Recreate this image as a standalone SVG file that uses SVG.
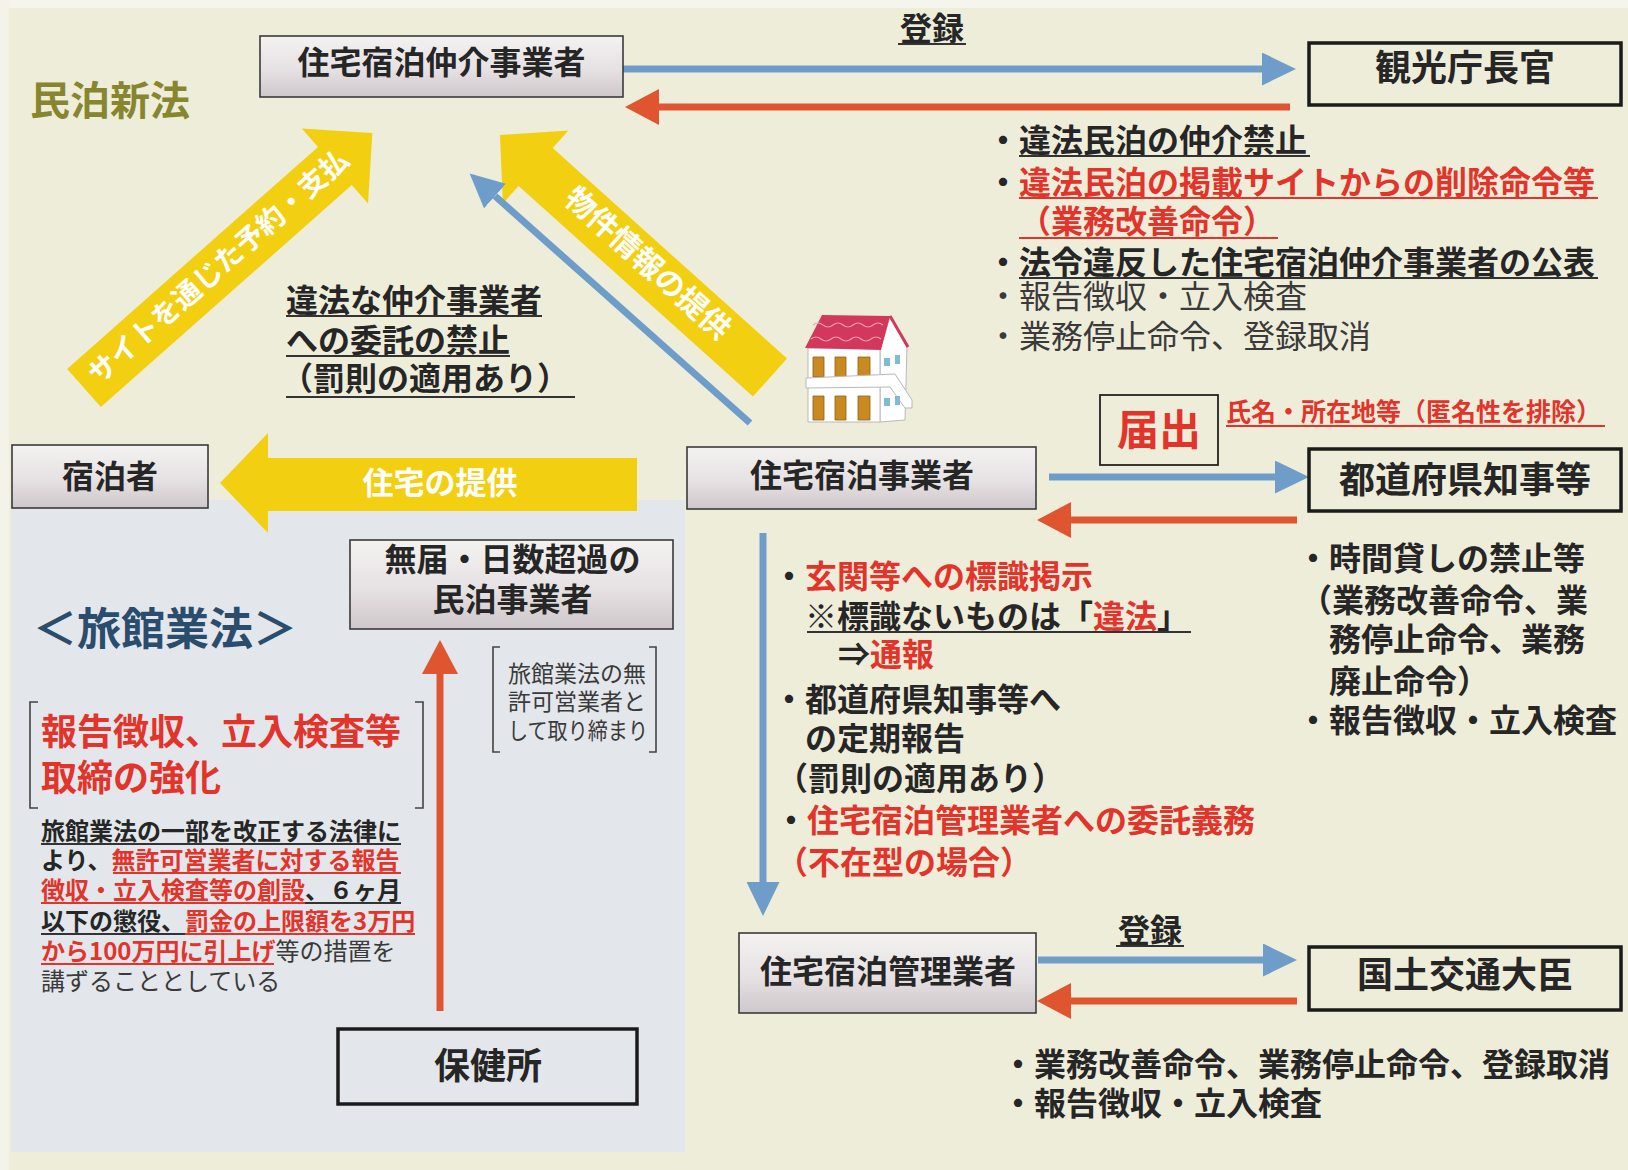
<svg xmlns="http://www.w3.org/2000/svg" width="1628" height="1170" viewBox="0 0 1628 1170">
  <style>
    text { font-family: 'Noto Sans CJK JP', 'Noto Sans CJK SC', sans-serif; }
    .b { font-weight: 700; }
    .n { font-weight: 400; }
    .k { fill: #262626; }
    .g { fill: #3a3a3a; }
    .r { fill: #e2342b; }
    .w { fill: #ffffff; }
    .node { fill: url(#boxGrad); stroke: #3a3a3a; stroke-width: 1.6; }
    .auth { fill: none; stroke: #1b1b1b; stroke-width: 3.5; }
    .ul { stroke: #333; stroke-width: 1.8; }
    .ulr { stroke: #e2342b; stroke-width: 1.8; }
    .blue { stroke: #6f9dc9; stroke-width: 7; fill: none; }
    .redl { stroke: #df5530; stroke-width: 7; fill: none; }
    .yel { fill: #f3cf12; }
    .brk { stroke: #444; stroke-width: 1.6; fill: none; }
  </style>
  <defs>
    <linearGradient id="boxGrad" x1="0" y1="0" x2="0" y2="1">
      <stop offset="0" stop-color="#f4f2f1"/>
      <stop offset="0.55" stop-color="#e6e1e3"/>
      <stop offset="1" stop-color="#cfc7cb"/>
    </linearGradient>
    <marker id="hb" markerUnits="userSpaceOnUse" markerWidth="34" markerHeight="33" viewBox="0 0 34 33" refX="0" refY="16.5" orient="auto">
      <path d="M0,0 L34,16.5 L0,33 Z" fill="#6f9dc9"/>
    </marker>
    <marker id="hr" markerUnits="userSpaceOnUse" markerWidth="34" markerHeight="36" viewBox="0 0 34 36" refX="0" refY="18" orient="auto">
      <path d="M0,0 L34,18 L0,36 Z" fill="#df5530"/>
    </marker>
  </defs>

  <!-- paper -->
  <rect x="0" y="0" width="1628" height="1170" fill="#eeedda"/>
  <rect x="0" y="0" width="1628" height="8" fill="#f5f5ee"/>
  <rect x="0" y="0" width="9" height="1170" fill="#f3f3ea"/>
  <!-- inn-law panel -->
  <rect x="11" y="500" width="674" height="652" fill="#e3e6ea"/>

  <!-- headings -->
  <text x="30" y="115" font-size="40" class="b" fill="#87862f">民泊新法</text>
  <text x="33" y="645" font-size="44" class="b" fill="#2a4d6e">＜旅館業法＞</text>

  <!-- yellow flow arrows -->
  <g id="arrow-booking">
    <polygon class="yel" transform="translate(84,388) rotate(-41.5)" points="0,-25.5 335,-25.5 335,-50 385,0 335,50 335,25.5 0,25.5"/>
    <text class="b w" font-size="28" text-anchor="middle" transform="translate(84,388) rotate(-41.5)" x="181" y="8">サイトを通じた予約・支払</text>
  </g>
  <g id="arrow-listing">
    <polygon class="yel" transform="translate(770,377.5) rotate(221.93)" points="0,-25.5 315,-25.5 315,-49 363,0 315,49 315,25.5 0,25.5"/>
    <text class="b w" font-size="30" text-anchor="middle" transform="translate(648,263) rotate(41.93)" y="11">物件情報の提供</text>
  </g>
  <g id="arrow-housing">
    <polygon class="yel" points="220,483 268,433 268,458 637,458 637,511 268,511 268,533"/>
    <text class="b w" font-size="31" text-anchor="middle" x="440" y="494">住宅の提供</text>
  </g>

  <!-- connectors -->
  <g id="connectors">
    <line class="blue" x1="623" y1="69" x2="1262" y2="69" marker-end="url(#hb)"/>
    <line class="redl" x1="1290" y1="107" x2="659" y2="107" marker-end="url(#hr)"/>
    <line class="blue" x1="1049" y1="477" x2="1275" y2="477" marker-end="url(#hb)"/>
    <line class="redl" x1="1297" y1="520" x2="1071" y2="520" marker-end="url(#hr)"/>
    <line class="blue" x1="1038" y1="960" x2="1263" y2="960" marker-end="url(#hb)"/>
    <line class="redl" x1="1297" y1="1001" x2="1071" y2="1001" marker-end="url(#hr)"/>
    <line class="blue" x1="763" y1="533" x2="763" y2="882" marker-end="url(#hb)"/>
    <line class="blue" stroke-width="6" x1="750" y1="423" x2="495" y2="196" marker-end="url(#hb)"/>
    <line class="redl" stroke-width="5" x1="440" y1="1011" x2="440" y2="674" marker-end="url(#hr)"/>
  </g>

  <!-- connector labels -->
  <g id="label-reg-top">
    <text class="b k" font-size="32" text-anchor="middle" x="932" y="40">登録</text>
    <line class="ul" x1="898" y1="44" x2="966" y2="44"/>
  </g>
  <g id="label-reg-bottom">
    <text class="b k" font-size="32" text-anchor="middle" x="1150" y="942">登録</text>
    <line class="ul" x1="1116" y1="946" x2="1184" y2="946"/>
  </g>

  <!-- nodes -->
  <g id="node-broker">
    <rect class="node" x="260" y="36" width="363" height="61"/>
    <text class="b k" font-size="32" text-anchor="middle" x="441.5" y="74">住宅宿泊仲介事業者</text>
  </g>
  <g id="node-tourism-agency">
    <rect class="auth" x="1309" y="43" width="312" height="62"/>
    <text class="b k" font-size="36" text-anchor="middle" x="1465" y="81">観光庁長官</text>
  </g>
  <g id="node-guest">
    <rect class="node" x="12" y="445" width="196" height="63"/>
    <text class="b k" font-size="32" text-anchor="middle" x="110" y="488">宿泊者</text>
  </g>
  <g id="node-host">
    <rect class="node" x="687" y="447" width="349" height="62"/>
    <text class="b k" font-size="32" text-anchor="middle" x="862" y="487">住宅宿泊事業者</text>
  </g>
  <g id="node-governor">
    <rect class="auth" x="1309" y="449" width="312" height="62"/>
    <text class="b k" font-size="36" text-anchor="middle" x="1465" y="493">都道府県知事等</text>
  </g>
  <g id="node-notice">
    <rect fill="none" stroke="#222" stroke-width="1.8" x="1100" y="395" width="118" height="70"/>
    <text class="b r" font-size="42" text-anchor="middle" x="1159" y="445">届出</text>
  </g>
  <g id="node-unlicensed">
    <rect class="node" x="350" y="540" width="323" height="89"/>
    <text class="b k" font-size="32" text-anchor="middle" x="512.5" y="571">無届・日数超過の</text>
    <text class="b k" font-size="32" text-anchor="middle" x="512.5" y="611">民泊事業者</text>
  </g>
  <g id="node-health-center">
    <rect class="auth" x="338" y="1029" width="299" height="75"/>
    <text class="b k" font-size="36" text-anchor="middle" x="488" y="1079">保健所</text>
  </g>
  <g id="node-manager">
    <rect class="node" x="739" y="933" width="297" height="80"/>
    <text class="b k" font-size="32" text-anchor="middle" x="888" y="983">住宅宿泊管理業者</text>
  </g>
  <g id="node-mlit">
    <rect class="auth" x="1309" y="947" width="312" height="63"/>
    <text class="b k" font-size="36" text-anchor="middle" x="1465" y="988">国土交通大臣</text>
  </g>

  <!-- house illustration -->
  <g id="house" stroke-linejoin="round">
    <polygon points="880,349 890,317 907,347 905,420 880,422" fill="#ffffff" stroke="#b9b9b9" stroke-width="1"/>
    <rect x="808" y="348" width="72" height="74" fill="#ffffff" stroke="#b9b9b9" stroke-width="1"/>
    <polygon points="805,348 822,315 890,316 881,350" fill="#d2375c"/>
    <line x1="890" y1="316" x2="908" y2="347" stroke="#d2375c" stroke-width="3"/>
    <path d="M813,325 q5,-4 10,0 t10,0 t10,0 t10,0 t10,0 t10,0 t10,0" fill="none" stroke="#f3a0b0" stroke-width="1.2"/>
    <path d="M811,339 q5,-4 10,0 t10,0 t10,0 t10,0 t10,0 t10,0 t10,0" fill="none" stroke="#f3a0b0" stroke-width="1.2"/>
    <g fill="#c98a22" stroke="#8f5e14" stroke-width="0.8">
      <rect x="813" y="357" width="11" height="20"/>
      <rect x="835" y="357" width="11" height="20"/>
      <rect x="858" y="357" width="12" height="20"/>
      <rect x="813" y="396" width="11" height="24"/>
      <rect x="835" y="396" width="11" height="24"/>
      <rect x="858" y="396" width="12" height="24"/>
    </g>
    <path d="M806,378 L895,374 L912,400 L912,408 L905,408 L890,387 L806,388 Z" fill="#ffffff" stroke="#b9b9b9" stroke-width="1"/>
    <g fill="#7fbcd4">
      <rect x="884" y="358" width="6" height="8"/>
      <rect x="895" y="355" width="5" height="9"/>
      <rect x="884" y="398" width="6" height="8"/>
      <rect x="895" y="396" width="5" height="9"/>
    </g>
  </g>

  <!-- broker obligations -->
  <g id="broker-notes">
    <text class="b k" font-size="32" x="987" y="152">・違法民泊の仲介禁止</text>
    <line class="ul" x1="1019" y1="156" x2="1310" y2="156"/>
    <text class="b" font-size="32" x="987" y="194"><tspan class="k">・</tspan><tspan class="r">違法民泊の掲載サイトからの削除命令等</tspan></text>
    <line class="ulr" x1="1019" y1="198" x2="1598" y2="198"/>
    <text class="b r" font-size="32" x="1019" y="233">（業務改善命令）</text>
    <line class="ulr" x1="1019" y1="238" x2="1278" y2="238"/>
    <text class="b k" font-size="32" x="987" y="274">・法令違反した住宅宿泊仲介事業者の公表</text>
    <line class="ul" x1="1019" y1="278" x2="1598" y2="278"/>
    <text class="n g" font-size="32" x="987" y="308">・報告徴収・立入検査</text>
    <text class="n g" font-size="32" x="987" y="348">・業務停止命令、登録取消</text>
  </g>

  <!-- prohibition on illegal brokers -->
  <g id="broker-ban">
    <text class="b k" font-size="32" x="286" y="312">違法な仲介事業者</text>
    <line class="ul" x1="286" y1="316" x2="542" y2="316"/>
    <text class="b k" font-size="32" x="286" y="352">への委託の禁止</text>
    <line class="ul" x1="286" y1="356" x2="510" y2="356"/>
    <text class="b k" font-size="32" x="281" y="390">（罰則の適用あり）</text>
    <line class="ul" x1="286" y1="397" x2="575" y2="397"/>
  </g>

  <!-- notification details -->
  <g id="notice-detail">
    <text class="b r" font-size="25" x="1226" y="421">氏名・所在地等（匿名性を排除）</text>
    <line class="ulr" x1="1226" y1="426" x2="1605" y2="426"/>
  </g>

  <!-- host obligations -->
  <g id="host-notes">
    <text class="b" font-size="32" x="773" y="588"><tspan class="k">・</tspan><tspan class="r">玄関等への標識掲示</tspan></text>
    <text class="b" font-size="32" x="805" y="628"><tspan class="k">※標識ないものは「</tspan><tspan class="r">違法</tspan><tspan class="k">」</tspan></text>
    <line class="ul" x1="807" y1="632" x2="1191" y2="632"/>
    <text class="b" font-size="32" x="838" y="666"><tspan class="k">⇒</tspan><tspan class="r">通報</tspan></text>
    <text class="b k" font-size="32" x="773" y="711">・都道府県知事等へ</text>
    <text class="b k" font-size="32" x="805" y="750">の定期報告</text>
    <text class="b k" font-size="32" x="776" y="790">（罰則の適用あり）</text>
    <text class="b" font-size="32" x="775" y="832"><tspan class="k">・</tspan><tspan class="r">住宅宿泊管理業者への委託義務</tspan></text>
    <text class="b r" font-size="32" x="776" y="874">（不在型の場合）</text>
  </g>

  <!-- governor powers -->
  <g id="governor-notes">
    <text class="b k" font-size="32" x="1297" y="570">・時間貸しの禁止等</text>
    <text class="b k" font-size="32" x="1300" y="612">（業務改善命令、業</text>
    <text class="b k" font-size="32" x="1329" y="651">務停止命令、業務</text>
    <text class="b k" font-size="32" x="1329" y="693">廃止命令）</text>
    <text class="b k" font-size="32" x="1297" y="732">・報告徴収・立入検査</text>
  </g>

  <!-- minister powers -->
  <g id="mlit-notes">
    <text class="b k" font-size="32" x="1002" y="1076">・業務改善命令、業務停止命令、登録取消</text>
    <text class="b k" font-size="32" x="1002" y="1115">・報告徴収・立入検査</text>
  </g>

  <!-- inn business act box -->
  <g id="inn-law">
    <path class="brk" d="M38,702 H30 V808 H38"/>
    <path class="brk" d="M415,702 H423 V808 H415"/>
    <text class="b r" font-size="36" x="41" y="745">報告徴収、立入検査等</text>
    <text class="b r" font-size="36" x="41" y="791">取締の強化</text>

    <text class="b k" font-size="24" x="41" y="840">旅館業法の一部を改正する法律に</text>
    <line class="ul" stroke-width="1.5" x1="41" y1="844" x2="401" y2="844"/>
    <text class="b" font-size="24" x="41" y="869"><tspan class="k">より、</tspan><tspan class="r">無許可営業者に対する報告</tspan></text>
    <line class="ulr" stroke-width="1.5" x1="113" y1="873" x2="401" y2="873"/>
    <text class="b" font-size="24" x="41" y="899"><tspan class="r">徴収・立入検査等の創設</tspan><tspan class="k">、６ヶ月</tspan></text>
    <line class="ulr" stroke-width="1.5" x1="41" y1="903" x2="305" y2="903"/>
    <line class="ul" stroke-width="1.5" x1="305" y1="903" x2="401" y2="903"/>
    <text class="b" font-size="24" x="41" y="930"><tspan class="k">以下の懲役、</tspan><tspan class="r">罰金の上限額を3万円</tspan></text>
    <line class="ul" stroke-width="1.5" x1="41" y1="934" x2="185" y2="934"/>
    <line class="ulr" stroke-width="1.5" x1="185" y1="934" x2="415" y2="934"/>
    <text font-size="24" x="41" y="960"><tspan class="b r">から100万円に引上げ</tspan><tspan class="n g">等の措置を</tspan></text>
    <line class="ulr" stroke-width="1.5" x1="41" y1="964" x2="274" y2="964"/>
    <text class="n g" font-size="24" x="41" y="990">講ずることとしている</text>
  </g>

  <!-- enforcement note -->
  <g id="inn-note">
    <path class="brk" d="M500,647 H493 V752 H500"/>
    <path class="brk" d="M649,647 H656 V752 H649"/>
    <text class="n g" font-size="23" x="508" y="682">旅館業法の無</text>
    <text class="n g" font-size="23" x="508" y="710">許可営業者と</text>
    <text class="n g" font-size="23" x="508" y="739" textLength="140" lengthAdjust="spacingAndGlyphs">して取り締まり</text>
  </g>
</svg>
